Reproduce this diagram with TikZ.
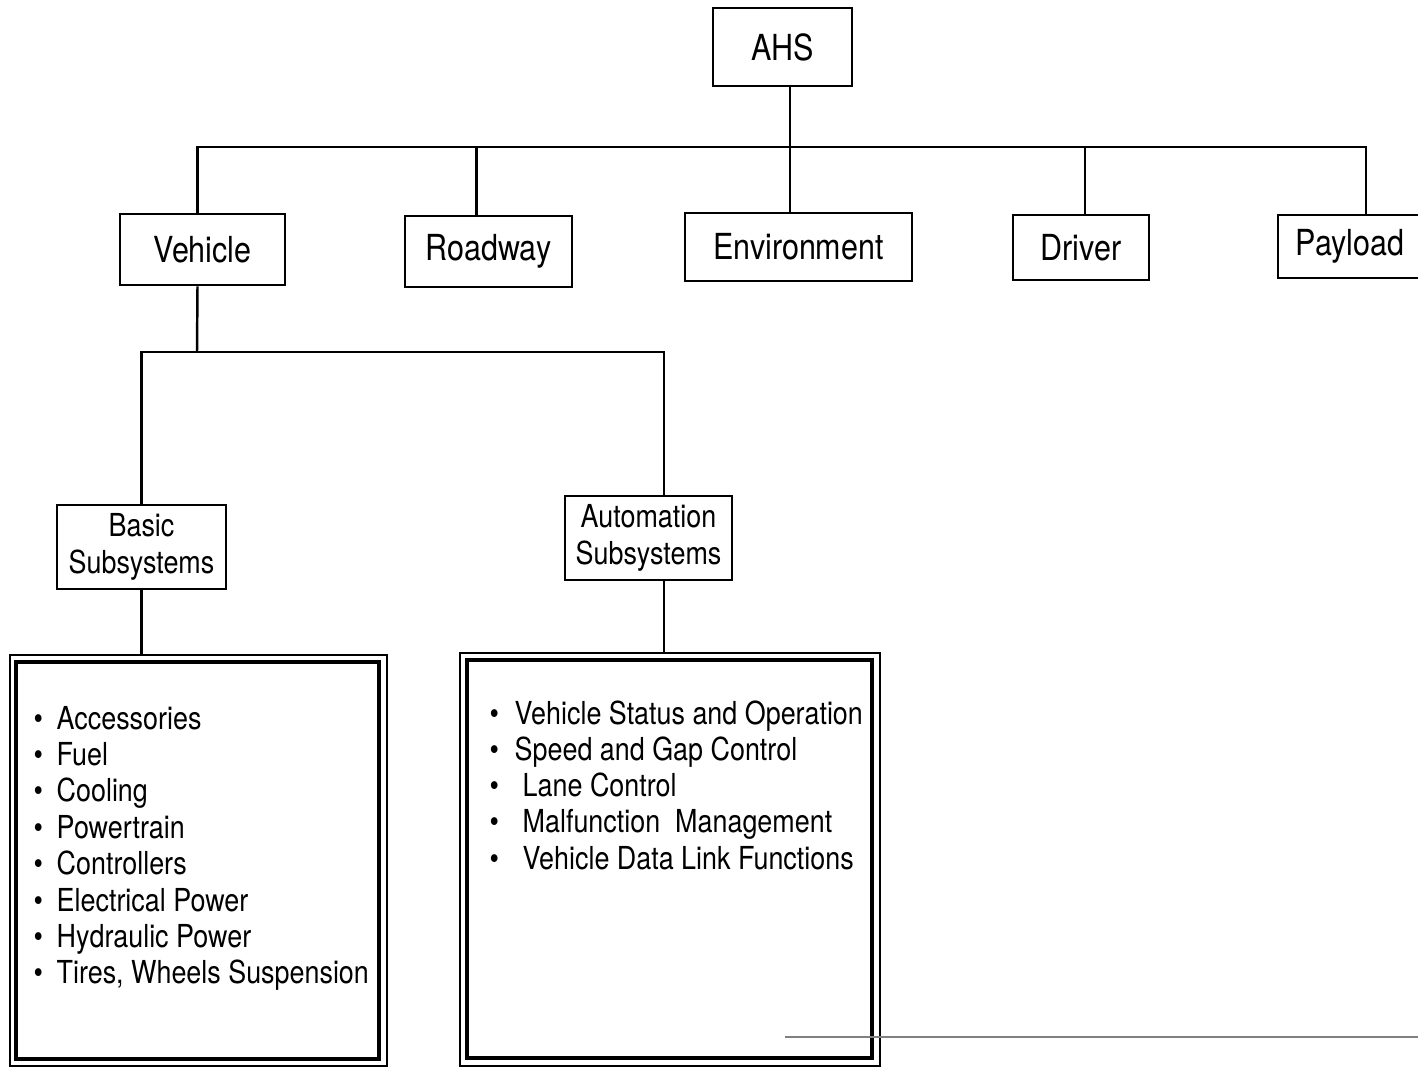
\documentclass[tikz,border=0pt]{standalone}
\usepackage{fontspec}
\setmainfont{TeX Gyre Heros}[FakeStretch=0.85]

\tikzset{
  unit/.style={draw, line width=0.8pt, inner sep=0pt, font=\fontsize{10.2}{12}\selectfont},
  sub/.style={draw, line width=0.8pt, inner sep=0pt, align=center, font=\fontsize{9}{10.5}\selectfont},
  listbox/.style={draw, line width=0.5pt, inner sep=0pt},
  link/.style={line width=0.7pt},
  item/.style={anchor=base west, inner sep=0pt, font=\fontsize{9}{10.5}\selectfont},
}

\begin{document}
\begin{tikzpicture}[x=0.01cm, y=-0.01cm]
			\useasboundingbox (0,0) rectangle (1418,1066);

			% top level
			\node[unit, minimum width=1.39cm, minimum height=0.78cm] (ahs) at (782.5,47) {AHS};
			\coordinate (bus) at (790,147);

			\node[unit, minimum width=1.65cm, minimum height=0.71cm] (veh) at (202.5,249.5) {Vehicle};
			\node[unit, minimum width=1.67cm, minimum height=0.71cm] (road) at (488.5,251.5) {Roadway};
			\node[unit, minimum width=2.27cm, minimum height=0.68cm] (env) at (798.5,247) {Environment};
			\node[unit, minimum width=1.36cm, minimum height=0.65cm] (drv) at (1081,247.5) {Driver};
			\node[unit, minimum width=1.44cm, minimum height=0.63cm] (pay) at (1350,246.5) {Payload};

			\draw[link] ([shift={(-5,0)}]veh.north) |- (bus) -| ([shift={(16,0)}]pay.north);
			\draw[link] (ahs.south -| bus) -- (env.north -| bus);
			\draw[link] ([shift={(-12,0)}]road.north) -- ([shift={(-12,0)}]road.north |- bus);
			\draw[link] ([shift={(4,0)}]drv.north) -- ([shift={(4,0)}]drv.north |- bus);

			% vehicle branch
			\coordinate (vbus) at (197,352);
			\node[sub, minimum width=1.69cm, minimum height=0.84cm] (basic) at (141.5,547) {Basic\\Subsystems};
			\node[sub, minimum width=1.67cm, minimum height=0.84cm] (auto) at (648.5,538) {Automation\\Subsystems};

			\draw[link] ([shift={(-5,0)}]veh.south) -- (vbus);
			\draw[link] (basic.north) |- (vbus) -| ([shift={(15.5,0)}]auto.north);

			% lists
			\node[listbox, minimum width=3.77cm, minimum height=4.11cm] (basicbox) at (198.5,860.5) {};
			\draw[line width=1pt] ([shift={(7,8)}]basicbox.north west) rectangle ([shift={(-9,-8)}]basicbox.south east);
			\node[listbox, minimum width=4.2cm, minimum height=4.13cm] (autobox) at (670,859.5) {};
			\draw[line width=1pt] ([shift={(8,8)}]autobox.north west) rectangle ([shift={(-9,-9)}]autobox.south east);

			\draw[link] (basic.south) -- (basic.south |- basicbox.north);
			\draw[link] ([shift={(15.5,0)}]auto.south) -- ([shift={(15.5,0)}]auto.south |- autobox.north);

			\foreach \t [count=\i] in {Accessories, Fuel, Cooling, Powertrain, Controllers,
				Electrical Power, Hydraulic Power, {Tires, Wheels Suspension}}
				\node[item] (bl\i) at (33, 729+36.4*\i-36.4) {\makebox[0.23cm][l]{\textbullet}\t};

			\foreach \t/\w [count=\i] in {Vehicle Status and Operation/0.25, Speed and Gap Control/0.25,
				Lane Control/0.33, Malfunction\ \ Management/0.33, Vehicle Data Link Functions/0.33}
				\node[item] (al\i) at (489, 724+36.25*\i-36.25) {\makebox[\w cm][l]{\textbullet}\t};

			% stray scan line
			\draw[line width=0.4pt, gray] (785,1037) -- (1418,1037);
		\end{tikzpicture}
\end{document}
